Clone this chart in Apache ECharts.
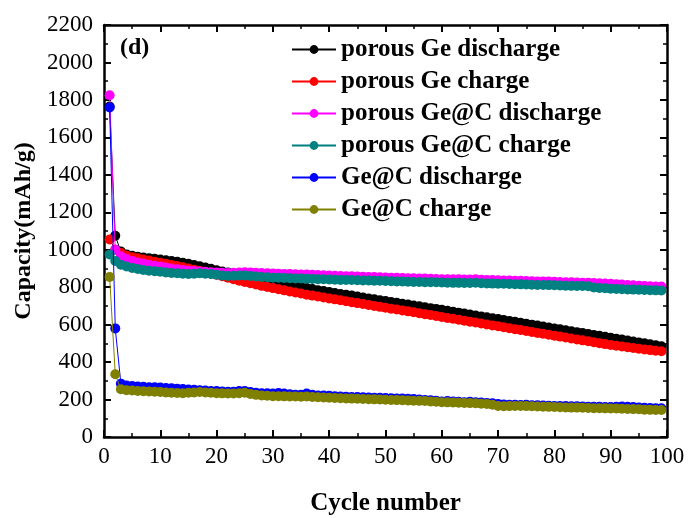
<!DOCTYPE html>
<html>
<head>
<meta charset="utf-8">
<script src="https://cdn.jsdelivr.net/npm/echarts@6/dist/echarts.min.js"></script>
<style>
  html, body { margin: 0; padding: 0; background: #fff; }
  #chart { width: 689px; height: 518px; }
</style>
</head>
<body>
<div id="chart"></div>
<script>
// Specific capacity (mAh/g) per cycle, cycles 1..99
const seriesNames = [
  'porous Ge discharge',
  'porous Ge charge',
  'porous Ge@C discharge',
  'porous Ge@C charge',
  'Ge@C discharge',
  'Ge@C charge'
];
const seriesColors = ['#000000', '#ff0000', '#ff00ff', '#008080', '#0000ff', '#808000'];

const porousGeDischarge = [
  1765, 1075, 990, 975, 968, 962, 958, 955, 952, 948,
  944, 940, 936, 930, 925, 918, 912, 905, 898, 890,
  884, 878, 872, 866, 860, 852, 846, 840, 832, 826,
  820, 815, 810, 805, 800, 795, 790, 784, 779, 774,
  769, 764, 760, 755, 750, 745, 740, 735, 730, 726,
  721, 717, 712, 707, 702, 698, 693, 688, 684, 679,
  674, 669, 664, 659, 654, 649, 644, 639, 634, 630,
  625, 620, 615, 610, 605, 600, 595, 590, 585, 580,
  575, 570, 565, 560, 555, 550, 545, 540, 535, 530,
  525, 520, 515, 510, 505, 500, 495, 490, 485
];
const porousGeCharge = [
  1055, 1000, 982, 968, 960, 954, 948, 942, 936, 930,
  925, 919, 913, 907, 900, 893, 886, 879, 872, 866,
  858, 850, 842, 835, 828, 821, 814, 807, 801, 795,
  789, 783, 777, 772, 766, 760, 755, 750, 745, 740,
  735, 730, 725, 720, 715, 710, 705, 700, 695, 690,
  685, 681, 676, 671, 666, 661, 656, 651, 646, 641,
  636, 631, 626, 621, 616, 611, 606, 601, 596, 591,
  586, 581, 576, 571, 566, 561, 556, 551, 546, 541,
  536, 531, 526, 521, 516, 511, 506, 501, 496, 491,
  487, 483, 479, 475, 471, 467, 464, 461, 458
];
const porousGeCDischarge = [
  1825, 1000, 965, 950, 940, 932, 926, 920, 915, 910,
  905, 900, 896, 892, 888, 886, 884, 882, 880, 878,
  877, 876, 877, 878, 880, 879, 877, 876, 874, 873,
  872, 871, 870, 869, 868, 868, 866, 865, 864, 862,
  861, 860, 859, 858, 857, 856, 855, 854, 853, 852,
  851, 850, 849, 848, 848, 847, 846, 845, 844, 843,
  843, 842, 842, 841, 841, 843, 840, 839, 838, 837,
  836, 836, 835, 834, 833, 832, 831, 830, 830, 829,
  828, 827, 826, 825, 824, 823, 822, 821, 820, 818,
  816, 814, 812, 810, 808, 806, 805, 804, 803
];
const porousGeCCharge = [
  975, 940, 920, 910, 903, 897, 892, 888, 885, 882,
  879, 876, 874, 872, 870, 872, 874, 872, 870, 866,
  862, 860, 861, 862, 863, 860, 857, 855, 853, 851,
  850, 849, 848, 847, 846, 845, 844, 843, 842, 841,
  840, 839, 838, 838, 837, 836, 836, 835, 834, 833,
  832, 831, 830, 829, 828, 828, 827, 826, 826, 825,
  824, 823, 823, 822, 822, 824, 821, 820, 819, 818,
  818, 817, 816, 815, 814, 813, 812, 812, 811, 810,
  809, 808, 807, 806, 806, 805, 798, 796, 794, 792,
  790, 789, 788, 787, 786, 785, 784, 783, 782
];
const geCDischarge = [
  1760, 580, 285, 275, 272, 270, 268, 266, 265, 264,
  262, 260, 258, 256, 254, 252, 250, 248, 246, 245,
  243, 242, 242, 245, 246, 240, 236, 234, 233, 232,
  235, 232, 228, 226, 225, 232, 225, 222, 221, 220,
  218, 216, 215, 214, 213, 212, 211, 210, 209, 208,
  207, 206, 205, 204, 203, 200, 198, 196, 194, 190,
  192, 190, 188, 186, 188, 186, 184, 182, 180, 176,
  174, 172, 172, 171, 172, 170, 169, 168, 167, 166,
  166, 165, 164, 164, 163, 162, 162, 161, 160, 160,
  162, 163, 161, 160, 158, 156, 155, 154, 153
];
const geCCharge = [
  855, 335, 255, 250, 248, 246, 244, 243, 242, 240,
  238, 236, 235, 234, 236, 238, 240, 238, 236, 234,
  233, 232, 232, 234, 236, 230, 225, 222, 220, 218,
  218, 217, 216, 216, 215, 216, 214, 212, 211, 210,
  208, 207, 206, 205, 204, 203, 202, 201, 200, 199,
  198, 197, 196, 195, 194, 193, 192, 190, 188, 186,
  185, 184, 183, 182, 181, 180, 178, 176, 172, 166,
  164, 165, 166, 166, 165, 164, 163, 162, 161, 160,
  159, 158, 157, 157, 156, 155, 154, 154, 153, 152,
  152, 151, 150, 149, 148, 146, 145, 144, 144
];
const seriesValues = [
  porousGeDischarge, porousGeCharge, porousGeCDischarge,
  porousGeCCharge, geCDischarge, geCCharge
];

const xTicks = [0, 10, 20, 30, 40, 50, 60, 70, 80, 90, 100];
const yTicks = [0, 200, 400, 600, 800, 1000, 1200, 1400, 1600, 1800, 2000, 2200];

const FONT = '"Liberation Serif", "Times New Roman", serif';

const chart = echarts.init(document.getElementById('chart'), null, { renderer: 'canvas' });

const frameLine = { show: true, onZero: false, lineStyle: { color: '#000', width: 2.5 } };
const majorTick = { show: true, inside: true, length: 7, lineStyle: { color: '#000', width: 2 } };
const minorTick = { show: true, splitNumber: 2, length: 4, lineStyle: { color: '#000', width: 1.5 } };

const series = seriesValues.map((vals, i) => ({
  name: seriesNames[i],
  type: 'line',
  xAxisIndex: 0,
  yAxisIndex: 0,
  data: vals.map((v, k) => [k + 1, v]),
  symbol: 'circle',
  symbolSize: 10,
  showAllSymbol: true,
  lineStyle: { color: seriesColors[i], width: 1 },
  itemStyle: { color: seriesColors[i] },
  z: 2 + i,
  animation: false
}));

chart.setOption({
  animation: false,
  backgroundColor: '#fff',
  grid: { left: 104, right: 22, top: 25, bottom: 81, containLabel: false, outerBoundsMode: 'none' },
  legend: {
    data: seriesNames,
    orient: 'vertical',
    left: 286,
    top: 32,
    itemWidth: 44,
    itemHeight: 11,
    itemGap: 7,
    textStyle: { fontFamily: FONT, fontWeight: 'bold', fontSize: 25, color: '#000', lineHeight: 25 }
  },
  graphic: [{
    type: 'text',
    left: 120,
    top: 36,
    style: { text: '(d)', font: 'bold 24px ' + FONT, fill: '#000' }
  }],
  xAxis: [{
    type: 'value',
    min: 0, max: 100, interval: 10,
    position: 'bottom',
    name: 'Cycle number',
    nameLocation: 'middle',
    nameGap: 54,
    nameTextStyle: { fontFamily: FONT, fontWeight: 'bold', fontSize: 25, color: '#000' },
    axisLine: frameLine,
    axisTick: majorTick,
    minorTick: minorTick,
    splitLine: { show: false },
    axisLabel: { fontFamily: FONT, fontSize: 23, color: '#000', margin: 8,
      formatter: v => xTicks.includes(v) ? String(v) : '' }
  }, {
    type: 'value',
    min: 0, max: 100, interval: 10,
    position: 'top',
    axisLine: frameLine,
    axisTick: majorTick,
    minorTick: minorTick,
    splitLine: { show: false },
    axisLabel: { show: false }
  }],
  yAxis: [{
    type: 'value',
    min: 0, max: 2200, interval: 200,
    position: 'left',
    name: 'Capacity(mAh/g)',
    nameLocation: 'middle',
    nameGap: 68,
    nameTextStyle: { fontFamily: FONT, fontWeight: 'bold', fontSize: 24, color: '#000' },
    axisLine: frameLine,
    axisTick: majorTick,
    minorTick: minorTick,
    splitLine: { show: false },
    axisLabel: { fontFamily: FONT, fontSize: 23, color: '#000', margin: 11,
      formatter: v => yTicks.includes(v) ? String(v) : '' }
  }, {
    type: 'value',
    min: 0, max: 2200, interval: 200,
    position: 'right',
    axisLine: frameLine,
    axisTick: majorTick,
    minorTick: minorTick,
    splitLine: { show: false },
    axisLabel: { show: false }
  }],
  series: series
});
</script>
</body>
</html>
